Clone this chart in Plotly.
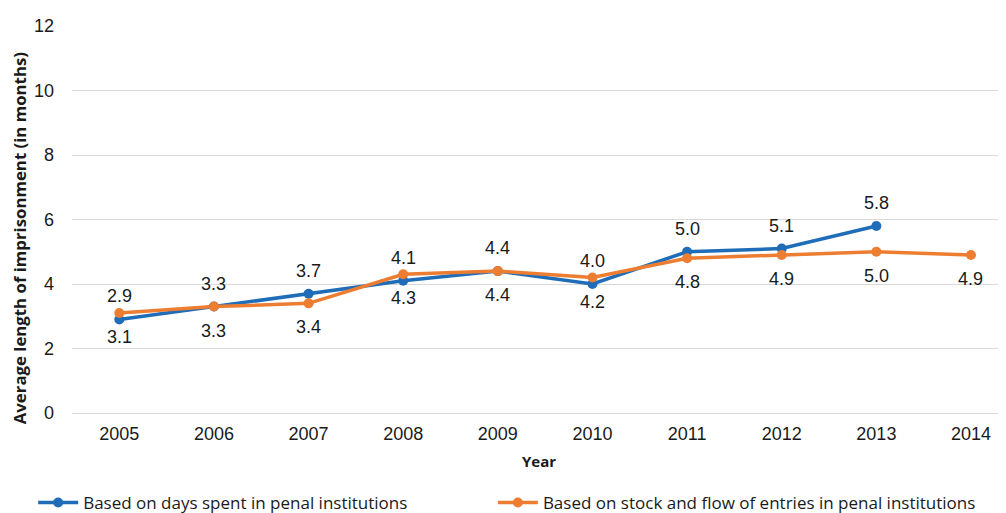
import plotly.graph_objects as go

years = ["2005", "2006", "2007", "2008", "2009", "2010", "2011", "2012", "2013", "2014"]
days_spent = [2.9, 3.3, 3.7, 4.1, 4.4, 4.0, 5.0, 5.1, 5.8]
stock_flow = [3.1, 3.3, 3.4, 4.3, 4.4, 4.2, 4.8, 4.9, 5.0, 4.9]
y_ticks = [0, 2, 4, 6, 8, 10, 12]

blue = "#1F6DB8"
orange = "#ED7D31"
txt = "#1a1a1a"
num_font = dict(family="Liberation Sans, Arial", size=18, color=txt)
legend_font = dict(family="Open Sans", size=17, color=txt)

fig = go.Figure()
fig.add_trace(go.Scatter(
    x=years[:len(days_spent)], y=days_spent, mode="lines+markers",
    name="Based on days spent in penal institutions",
    line=dict(color=blue, width=3.5), marker=dict(color=blue, size=10),
    legend="legend", showlegend=True,
))
fig.add_trace(go.Scatter(
    x=years, y=stock_flow, mode="lines+markers",
    name="Based on stock and flow of entries in penal institutions",
    line=dict(color=orange, width=3.5), marker=dict(color=orange, size=10),
    legend="legend2", showlegend=True,
))

annotations = []
for i, v in enumerate(days_spent):
    annotations.append(dict(x=i, y=v, text=f"{v:.1f}", showarrow=False,
                            yshift=23, font=num_font))
for i, v in enumerate(stock_flow):
    annotations.append(dict(x=i, y=v, text=f"{v:.1f}", showarrow=False,
                            yshift=-24, font=num_font))
annotations.append(dict(
    text="<b>Average length of imprisonment (in months)</b>",
    xref="paper", yref="paper", x=0, y=0.4515, xshift=-53,
    xanchor="center", yanchor="middle", textangle=-90, showarrow=False,
    font=dict(family="Open Sans", size=16.8, color=txt),
))

fig.update_layout(
    width=1006, height=513,
    showlegend=True,
    margin=dict(l=64, r=8, t=13, b=108),
    plot_bgcolor="white", paper_bgcolor="white",
    annotations=annotations,
    xaxis=dict(
        type="category", range=[-0.5, 9.37],
        showgrid=False, showline=False, zeroline=False,
        tickfont=num_font, ticklabelstandoff=8,
        title=dict(text="<b>Year</b>", font=dict(family="Open Sans", size=15, color=txt), standoff=13),
    ),
    yaxis=dict(
        range=[0, 12], tickvals=y_ticks, showgrid=True, gridcolor="#D9D9D9", gridwidth=1,
        zeroline=True, zerolinecolor="#D9D9D9", zerolinewidth=1,
        tickfont=num_font, ticklabelstandoff=17,
    ),
    legend=dict(
        visible=True,
        orientation="h", xref="container", yref="container",
        x=0.025, xanchor="left", y=0.0, yanchor="bottom",
        itemwidth=40, font=legend_font,
    ),
    legend2=dict(
        visible=True,
        orientation="h", xref="container", yref="container",
        x=0.482, xanchor="left", y=0.0, yanchor="bottom",
        itemwidth=40, font=legend_font,
    ),
)

fig.write_html("out.html")
